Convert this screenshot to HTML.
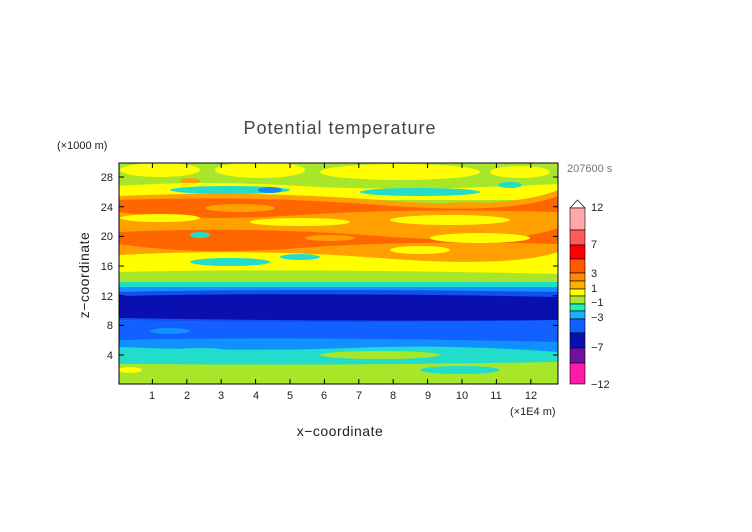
<!DOCTYPE html>
<html><head><meta charset="utf-8"><style>
body{margin:0;background:#fff;}
svg{display:block;font-family:"Liberation Sans","DejaVu Sans",sans-serif;}
</style></head><body>
<svg width="752" height="532" viewBox="0 0 752 532" xmlns="http://www.w3.org/2000/svg">
<defs><clipPath id="c"><rect x="119" y="163" width="439" height="221"/></clipPath></defs>
<g clip-path="url(#c)">
<rect x="119" y="163" width="439" height="221" fill="#a8e62a"/>
<ellipse cx="160" cy="170" rx="40" ry="7" fill="#ffff00"/>
<ellipse cx="260" cy="170" rx="45" ry="8" fill="#ffff00"/>
<ellipse cx="400" cy="172" rx="80" ry="8" fill="#ffff00"/>
<ellipse cx="520" cy="172" rx="30" ry="6" fill="#ffff00"/>
<ellipse cx="190" cy="181" rx="10" ry="3" fill="#ffa000"/>
<path d="M119,186 Q200,180 300,186 T558,184 L558,200 L119,200Z" fill="#ffff00"/>
<ellipse cx="230" cy="190" rx="60" ry="4" fill="#22ddcc"/>
<ellipse cx="270" cy="190" rx="12" ry="3" fill="#1188ff"/>
<ellipse cx="420" cy="192" rx="60" ry="4" fill="#22ddcc"/>
<ellipse cx="510" cy="185" rx="12" ry="3" fill="#22ddcc"/>
<path d="M119,196 Q250,190 380,200 T558,190 L558,270 Q400,262 300,268 T119,265Z" fill="#ffa000"/>
<path d="M119,200 Q250,195 380,205 T558,196 L558,212 Q400,208 300,215 T119,212Z" fill="#ff6600"/>
<ellipse cx="240" cy="208" rx="35" ry="4" fill="#ffa000"/>
<ellipse cx="470" cy="205" rx="30" ry="3" fill="#ffa000"/>
<ellipse cx="160" cy="218" rx="40" ry="4" fill="#ffff00"/>
<ellipse cx="300" cy="222" rx="50" ry="4" fill="#ffff00"/>
<ellipse cx="450" cy="220" rx="60" ry="5" fill="#ffff00"/>
<path d="M119,232 Q250,226 380,236 T558,228 L558,244 Q400,240 300,248 T119,244Z" fill="#ff6600"/>
<ellipse cx="200" cy="235" rx="10" ry="3" fill="#22ddcc"/>
<ellipse cx="330" cy="238" rx="25" ry="3" fill="#ffa000"/>
<ellipse cx="480" cy="238" rx="50" ry="5" fill="#ffff00"/>
<path d="M119,255 Q250,248 380,258 T558,252 L558,274 Q400,270 300,276 T119,272Z" fill="#ffff00"/>
<ellipse cx="230" cy="262" rx="40" ry="4" fill="#22ddcc"/>
<ellipse cx="300" cy="257" rx="20" ry="3" fill="#22ddcc"/>
<ellipse cx="420" cy="250" rx="30" ry="4" fill="#ffff00"/>
<path d="M119,272 Q300,268 558,274 L558,282 L119,282Z" fill="#a8e62a"/>
<rect x="119" y="282" width="439" height="8" fill="#22ddcc"/>
<rect x="119" y="287" width="439" height="10" fill="#1190ff"/>
<path d="M119,292 Q300,288 558,292 L558,322 Q350,326 119,320Z" fill="#1150ee"/>
<path d="M119,296 Q300,292 558,297 L558,320 Q350,322 119,318Z" fill="#0a10b0"/>
<path d="M119,320 Q350,324 558,320 L558,345 L119,345Z" fill="#1160ff"/>
<ellipse cx="170" cy="331" rx="20" ry="3" fill="#1190ff"/>
<path d="M119,340 Q300,336 558,342 L558,360 L119,360Z" fill="#1190ff"/>
<path d="M119,347 Q250,352 350,348 T558,352 L558,366 L119,364Z" fill="#22ddcc"/>
<ellipse cx="200" cy="352" rx="30" ry="4" fill="#22ddcc"/>
<ellipse cx="380" cy="355" rx="60" ry="4" fill="#a8e62a"/>
<path d="M119,364 Q300,366 558,362 L558,384 L119,384Z" fill="#a8e62a"/>
<ellipse cx="460" cy="370" rx="40" ry="4" fill="#22ddcc"/>
<ellipse cx="130" cy="370" rx="12" ry="3" fill="#ffff00"/>
</g>
<rect x="119" y="163" width="439" height="221" fill="none" stroke="#000" stroke-width="1"/>
<g stroke="#000" stroke-width="1">
<path d="M152.4,384v-5M186.8,384v-5M221.2,384v-5M255.6,384v-5M290,384v-5M324.4,384v-5M358.8,384v-5M393.2,384v-5M427.6,384v-5M462,384v-5M496.4,384v-5M530.8,384v-5"/>
<path d="M152.4,163v5M186.8,163v5M221.2,163v5M255.6,163v5M290,163v5M324.4,163v5M358.8,163v5M393.2,163v5M427.6,163v5M462,163v5M496.4,163v5M530.8,163v5"/>
<path d="M119,355h5M119,325.4h5M119,295.7h5M119,266h5M119,236.4h5M119,206.7h5M119,177h5"/>
<path d="M558,355h-5M558,325.4h-5M558,295.7h-5M558,266h-5M558,236.4h-5M558,206.7h-5M558,177h-5"/>
</g>
<g font-size="11" fill="#222" text-anchor="middle">
<text x="152" y="399">1</text><text x="187" y="399">2</text><text x="221" y="399">3</text><text x="256" y="399">4</text><text x="290" y="399">5</text><text x="324" y="399">6</text><text x="359" y="399">7</text><text x="393" y="399">8</text><text x="428" y="399">9</text><text x="462" y="399">10</text><text x="496" y="399">11</text><text x="531" y="399">12</text>
</g>
<g font-size="11" fill="#222" text-anchor="end">
<text x="113" y="359">4</text><text x="113" y="329">8</text><text x="113" y="300">12</text><text x="113" y="270">16</text><text x="113" y="240">20</text><text x="113" y="211">24</text><text x="113" y="181">28</text>
</g>
<text x="340" y="134" font-size="18" fill="#444" text-anchor="middle" letter-spacing="1">Potential temperature</text>
<text x="57" y="149" font-size="11" fill="#222">(×1000 m)</text>
<text x="567" y="172" font-size="11" fill="#777">207600 s</text>
<text x="510" y="415" font-size="11" fill="#222">(×1E4 m)</text>
<text x="340" y="436" font-size="14" fill="#222" text-anchor="middle" letter-spacing="0.5">x−coordinate</text>
<text transform="translate(89,275) rotate(-90)" font-size="14" fill="#222" text-anchor="middle" letter-spacing="0.5">z−coordinate</text>
<g stroke="#000" stroke-width="0.6">
<path d="M570,208 L577.5,200 L585,208Z" fill="#fff"/>
<rect x="570" y="208" width="15" height="22" fill="#ffa8a8"/>
<rect x="570" y="230" width="15" height="15" fill="#ff5a5a"/>
<rect x="570" y="245" width="15" height="14" fill="#ff0000"/>
<rect x="570" y="259" width="15" height="14" fill="#ff5a00"/>
<rect x="570" y="273" width="15" height="8" fill="#ff8c00"/>
<rect x="570" y="281" width="15" height="8" fill="#ffb000"/>
<rect x="570" y="289" width="15" height="7" fill="#ffff00"/>
<rect x="570" y="296" width="15" height="8" fill="#a8e62a"/>
<rect x="570" y="304" width="15" height="7" fill="#22eebb"/>
<rect x="570" y="311" width="15" height="8" fill="#1ab0ff"/>
<rect x="570" y="319" width="15" height="14" fill="#1060ff"/>
<rect x="570" y="333" width="15" height="15" fill="#0a10b0"/>
<rect x="570" y="348" width="15" height="15" fill="#7010a0"/>
<rect x="570" y="363" width="15" height="21" fill="#ff1aa8"/>
</g>
<g font-size="11" fill="#222">
<text x="591" y="211">12</text><text x="591" y="248">7</text><text x="591" y="277">3</text><text x="591" y="292">1</text><text x="591" y="306">−1</text><text x="591" y="321">−3</text><text x="591" y="351">−7</text><text x="591" y="388">−12</text>
</g>
</svg>
</body></html>
